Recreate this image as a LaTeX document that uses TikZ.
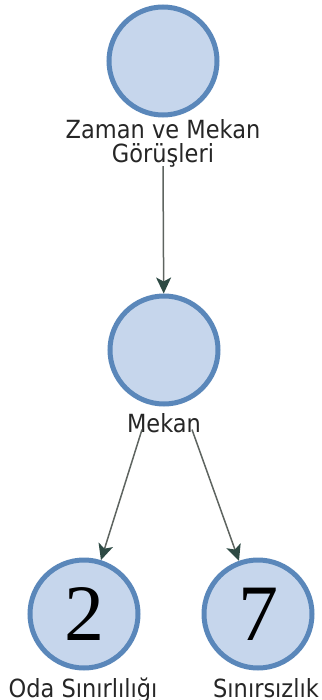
\documentclass[tikz,border=0pt]{standalone}
\usepackage{fontspec}
\setmainfont{DejaVu Sans}[FakeStretch=0.9]
\newfontfamily\digitfont{Liberation Serif}
\usetikzlibrary{arrows.meta}
\definecolor{cfill}{HTML}{C6D6EC}
\definecolor{cborder}{HTML}{5A87BA}
\definecolor{arrowdark}{HTML}{2E4A44}
\definecolor{linegray}{HTML}{5E6460}
\begin{document}
\begin{tikzpicture}[x=1pt,y=-1pt,
  circ/.style={circle,fill=cfill,draw=cborder,line width=5pt,minimum size=108pt,inner sep=0pt},
  lbl/.style={font=\fontsize{25}{24}\selectfont,text=black!85,align=center,inner sep=0pt,anchor=base},
  dig/.style={font=\digitfont\fontsize{80}{80}\selectfont,text=black},
  conn/.style={draw=linegray,line width=1.5pt,-{Stealth[length=16pt,width=15pt,inset=4pt,color=arrowdark]}}]
\useasboundingbox (0,0) rectangle (321,700);
\node[circ] (c0) at (163,61) {};
\node[lbl] (l0) at (163,139) {Zaman ve Mekan};
\node[lbl] (l0b) at (163,163) {Görüşleri};
\node[circ] (c1) at (164,350) {};
\node[lbl] (l1) at (164,432) {Mekan};
\node[circ,dig] (c2) at (84,614) {2};
\node[circ,dig] (c3) at (258,614) {7};
\node[lbl] (l2) at (83,697) {Oda Sınırlılığı};
\node[lbl] (l3) at (266,697) {Sınırsızlık};
\draw[conn] ([yshift=2pt]l0b.south) -- (c1);
\draw[conn] ([xshift=-22pt,yshift=3pt]l1.south) -- (c2);
\draw[conn] ([xshift=28pt,yshift=3pt]l1.south) -- (c3);
\end{tikzpicture}
\end{document}
